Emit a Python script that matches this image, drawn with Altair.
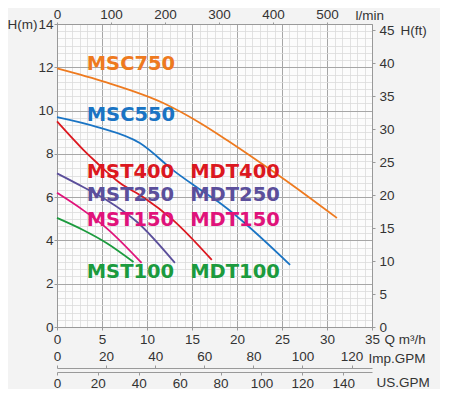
import altair as alt
import pandas as pd

# ---- pump curves (Q in m3/h, H in m) ----
msc750_q = [0, 5.5, 11.8, 15.9, 19.2, 22.4, 25.0, 31.1]
msc750_h = [11.95, 11.3, 10.35, 9.43, 8.55, 7.65, 6.9, 5.04]
msc550_q = [0, 4.4, 9.2, 13.1, 15.2, 18.4, 25.9]
msc550_h = [9.7, 9.25, 8.5, 7.18, 6.55, 5.64, 2.87]
m400_q = [0, 2.9, 4.4, 7.0, 9.6, 12.9, 17.2]
m400_h = [9.5, 8.2, 7.6, 6.65, 6.0, 4.94, 3.1]
m250_q = [0, 2.9, 5.5, 8.9, 13.1]
m250_h = [7.1, 6.47, 5.87, 4.85, 2.96]
m150_q = [0, 2.9, 5.5, 9.4]
m150_h = [6.2, 5.4, 4.57, 2.96]
m100_q = [0, 2.9, 5.5, 8.5]
m100_h = [5.04, 4.48, 3.88, 3.0]

series_keys = ["MSC750", "MSC550", "400", "250", "150", "100"]
series_colors = ["#ee7a1f", "#1a74c4", "#dc1820", "#5b4f9b", "#e0137a", "#1c9b3e"]

# ---- curve labels ----
label_text = ["MSC750", "MSC550", "MST400", "MDT400", "MST250", "MDT250",
              "MST150", "MDT150", "MST100", "MDT100"]
label_series = ["MSC750", "MSC550", "400", "400", "250", "250", "150", "150", "100", "100"]
label_q = [3.3, 3.3, 3.3, 14.8, 3.3, 14.8, 3.3, 14.8, 3.3, 14.8]
label_h = [12.15, 9.8, 7.16, 7.16, 6.1, 6.1, 4.94, 4.94, 2.54, 2.54]

# ---- axis ticks ----
q_ticks = [0, 5, 10, 15, 20, 25, 30, 35]
h_ticks = [0, 2, 4, 6, 8, 10, 12, 14]
lpm_ticks = [0, 100, 200, 300, 400, 500]
ft_ticks = [0, 5, 10, 15, 20, 25, 30, 35, 40, 45]
imp_ticks = [0, 20, 40, 60, 80, 100, 120]
us_ticks = [0, 20, 40, 60, 80, 100, 120, 140]
q_minor = [i * 5 / 6 for i in range(43)]
h_minor = [i * 2 / 6 for i in range(43)]

Q_MAX, H_MAX = 35, 14

rows = []
for key, qs, hs in zip(series_keys,
                       [msc750_q, msc550_q, m400_q, m250_q, m150_q, m100_q],
                       [msc750_h, msc550_h, m400_h, m250_h, m150_h, m100_h]):
    for q, h in zip(qs, hs):
        rows.append({"series": key, "Q": q, "H": h})
curves = pd.DataFrame(rows)
labels = pd.DataFrame({"label": label_text, "series": label_series, "q": label_q, "h": label_h})


def sc(lo, hi):
    return alt.Scale(domain=[lo, hi], nice=False, zero=False)


color = alt.Color("series:N", scale=alt.Scale(domain=series_keys, range=series_colors), legend=None)
base = alt.Chart(curves)

minor = base.mark_point(opacity=0).encode(
    x=alt.X("Q:Q", scale=sc(0, Q_MAX), axis=alt.Axis(
        orient="bottom", values=q_minor, grid=True, gridColor="#dadada", gridWidth=0.8,
        labels=False, ticks=False, domain=False, title=None)),
    y=alt.Y("H:Q", scale=sc(0, H_MAX), axis=alt.Axis(
        orient="left", values=h_minor, grid=True, gridColor="#dadada", gridWidth=0.8,
        labels=False, ticks=False, domain=False, title=None)),
)

lines = base.mark_line(strokeWidth=1.8, interpolate="monotone").encode(
    x=alt.X("Q:Q", scale=sc(0, Q_MAX), axis=alt.Axis(
        orient="bottom", values=q_ticks, grid=True, gridColor="#a6a6a6", gridWidth=1,
        tickSize=3, labelPadding=2, title="Q m³/h", titleX=327, titleY=12,
        titleAlign="left", titleBaseline="middle", titleAngle=0)),
    y=alt.Y("H:Q", scale=sc(0, H_MAX), axis=alt.Axis(
        orient="left", values=h_ticks, grid=True, gridColor="#a6a6a6", gridWidth=1,
        tickSize=3, labelPadding=1, title="H(m)", titleX=-20, titleY=0,
        titleAlign="right", titleBaseline="middle", titleAngle=0)),
    color=color,
    detail="series:N",
)

text = alt.Chart(labels).mark_text(
    font="DejaVu Sans", fontWeight="bold", fontSize=19.5, align="left", baseline="middle"
).encode(
    x=alt.X("q:Q", scale=sc(0, Q_MAX), axis=None),
    y=alt.Y("h:Q", scale=sc(0, H_MAX), axis=None),
    text="label:N",
    color=color,
)

top = base.transform_calculate(lpm="datum.Q*1000/60").mark_point(opacity=0).encode(
    x=alt.X("lpm:Q", scale=sc(0, Q_MAX * 1000 / 60), axis=alt.Axis(
        orient="top", values=lpm_ticks, grid=False, tickSize=2, labelPadding=1,
        title="l/min", titleX=298, titleY=-9, titleAlign="left",
        titleBaseline="middle", titleAngle=0)),
    y=alt.Y("H:Q", scale=sc(0, H_MAX), axis=None),
)

right = base.transform_calculate(ft="datum.H*3.28084").mark_point(opacity=0).encode(
    x=alt.X("Q:Q", scale=sc(0, Q_MAX), axis=None),
    y=alt.Y("ft:Q", scale=sc(0, H_MAX * 3.28084), axis=alt.Axis(
        orient="right", values=ft_ticks, grid=False, tickSize=3, labelPadding=4,
        title="H(ft)", titleX=28, titleY=6, titleAlign="left",
        titleBaseline="middle", titleAngle=0)),
)

imp = base.transform_calculate(imp="datum.Q*3.666").mark_point(opacity=0).encode(
    x=alt.X("imp:Q", scale=sc(0, Q_MAX * 3.666), axis=alt.Axis(
        orient="top", offset=-344, values=imp_ticks, grid=False, tickSize=3, labelPadding=2,
        title="Imp.GPM", titleX=311, titleY=-10, titleAlign="left",
        titleBaseline="middle", titleAngle=0)),
    y=alt.Y("H:Q", scale=sc(0, H_MAX), axis=None),
)

us = base.transform_calculate(us="datum.Q*4.403").mark_point(opacity=0).encode(
    x=alt.X("us:Q", scale=sc(0, Q_MAX * 4.403), axis=alt.Axis(
        orient="bottom", offset=45, values=us_ticks, grid=False, tickSize=3, labelPadding=1,
        title="US.GPM", titleX=319, titleY=10, titleAlign="left",
        titleBaseline="middle", titleAngle=0)),
    y=alt.Y("H:Q", scale=sc(0, H_MAX), axis=None),
)

chart = alt.layer(minor, lines, text, top, right, imp, us).resolve_scale(
    x="independent", y="independent"
).properties(
    width=315, height=303,
    autosize=alt.AutoSizeParams(type="none"),
    padding={"left": 49, "top": 16, "right": 68, "bottom": 62},
    background="#f3f3f3",
).configure_view(
    fill="#fcfcfc", stroke=None
).configure_axis(
    labelFont="Liberation Sans", labelFontSize=13.5, labelColor="#333333",
    titleFont="Liberation Sans", titleFontSize=13.5, titleFontWeight="normal", titleColor="#333333",
    domainColor="#999999", tickColor="#999999", labelFlush=False, labelOverlap=False,
)

chart.save("out.html", embed_options={"renderer": "svg", "actions": False})
